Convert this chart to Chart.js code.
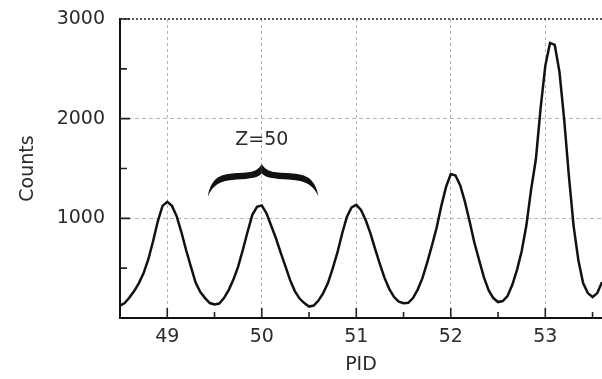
<!DOCTYPE html>
<html>
<head>
<meta charset="utf-8">
<script src="https://cdn.jsdelivr.net/npm/chart.js@4/dist/chart.umd.min.js"></script>
<style>
  html, body { margin: 0; padding: 0; background: #fff; }
  #wrap { width: 602px; height: 379px; }
</style>
</head>
<body>
<div id="wrap"><canvas id="pidChart" width="602" height="379"></canvas></div>
<script>
// PID spectrum
const pid = [
  48.50, 48.55, 48.60, 48.65, 48.70, 48.75, 48.80, 48.85, 48.90, 48.95,
  49.00, 49.05, 49.10, 49.15, 49.20, 49.25, 49.30, 49.35, 49.40, 49.45,
  49.50, 49.55, 49.60, 49.65, 49.70, 49.75, 49.80, 49.85, 49.90, 49.95,
  50.00, 50.05, 50.10, 50.15, 50.20, 50.25, 50.30, 50.35, 50.40, 50.45,
  50.50, 50.55, 50.60, 50.65, 50.70, 50.75, 50.80, 50.85, 50.90, 50.95,
  51.00, 51.05, 51.10, 51.15, 51.20, 51.25, 51.30, 51.35, 51.40, 51.45,
  51.50, 51.55, 51.60, 51.65, 51.70, 51.75, 51.80, 51.85, 51.90, 51.95,
  52.00, 52.05, 52.10, 52.15, 52.20, 52.25, 52.30, 52.35, 52.40, 52.45,
  52.50, 52.55, 52.60, 52.65, 52.70, 52.75, 52.80, 52.85, 52.90, 52.95,
  53.00, 53.05, 53.10, 53.15, 53.20, 53.25, 53.30, 53.35, 53.40, 53.45,
  53.50, 53.55, 53.60
];

const counts = [
  125, 150, 205, 270, 350, 450, 590, 770, 970, 1125,
  1165, 1125, 1020, 860, 680, 515, 355, 260, 200, 150,
  135, 145, 200, 280, 385, 515, 685, 865, 1035, 1115,
  1130, 1050, 925, 800, 655, 520, 380, 270, 195, 150,
  115, 125, 175, 250, 350, 495, 655, 845, 1015, 1110,
  1135, 1085, 980, 850, 690, 540, 400, 290, 210, 165,
  148, 152, 200, 285, 400, 555, 725, 905, 1125, 1315,
  1445, 1430, 1330, 1165, 965, 755, 580, 410, 280, 200,
  160, 170, 220, 330, 480, 670, 930, 1290, 1590, 2100,
  2530, 2760, 2740, 2470, 1990, 1420, 920, 580, 350, 250,
  210, 250, 360
];

const xTicks = [49, 50, 51, 52, 53];
const xMinor = [49.5, 50.5, 51.5, 52.5, 53.5];
const yTicks = [1000, 2000, 3000];
const yMinor = [500, 1500, 2500];

const labelText = "Z=50";
const labelPos = [50, 1790];
const braceX = [49.43, 50.0, 50.6];
const braceY = [1545, 1205];

const textColor = "#2b2b2b";
const gridColor = "#b4b4b4";
const fontFamily = "'DejaVu Sans', sans-serif";

const points = pid.map((v, i) => ({ x: v, y: counts[i] }));

// inward ticks + dotted top frame
const framePlugin = {
  id: "frame",
  afterDraw(chart) {
    const { ctx, chartArea: a, scales: { x, y } } = chart;
    ctx.save();
    ctx.strokeStyle = "#222";
    ctx.lineWidth = 1.5;
    ctx.setLineDash([2, 2]);
    ctx.beginPath();
    ctx.moveTo(a.left, y.getPixelForValue(3000));
    ctx.lineTo(a.right, y.getPixelForValue(3000));
    ctx.stroke();
    ctx.setLineDash([]);
    ctx.lineWidth = 1.6;
    ctx.beginPath();
    xTicks.forEach(v => {
      const px = x.getPixelForValue(v);
      ctx.moveTo(px, a.bottom);
      ctx.lineTo(px, a.bottom - 10);
    });
    xMinor.forEach(v => {
      const px = x.getPixelForValue(v);
      ctx.moveTo(px, a.bottom);
      ctx.lineTo(px, a.bottom - 6);
    });
    yTicks.forEach(v => {
      const py = y.getPixelForValue(v);
      ctx.moveTo(a.left, py);
      ctx.lineTo(a.left + 10, py);
    });
    yMinor.forEach(v => {
      const py = y.getPixelForValue(v);
      ctx.moveTo(a.left, py);
      ctx.lineTo(a.left + 7, py);
    });
    ctx.stroke();
    ctx.restore();
  }
};

// the "Z=50" brace
const bracePlugin = {
  id: "brace",
  afterDatasetsDraw(chart) {
    const { ctx, scales: { x, y } } = chart;
    const xl = x.getPixelForValue(braceX[0]);
    const xm = x.getPixelForValue(braceX[1]);
    const xr = x.getPixelForValue(braceX[2]);
    const yt = y.getPixelForValue(braceY[0]);
    const h = y.getPixelForValue(braceY[1]) - yt;

    function half(w, dir) {
      const P = (u, d) => [xm + dir * u * w, yt + d * h];
      ctx.beginPath();
      let p = P(0, 0);
      ctx.moveTo(p[0], p[1]);
      let c1 = P(0.1, 0.3), c2 = P(0.3, 0.24), e = P(0.55, 0.28);
      ctx.bezierCurveTo(c1[0], c1[1], c2[0], c2[1], e[0], e[1]);
      c1 = P(0.78, 0.31); c2 = P(0.94, 0.42); e = P(1, 0.95);
      ctx.bezierCurveTo(c1[0], c1[1], c2[0], c2[1], e[0], e[1]);
      c1 = P(0.9, 0.6); c2 = P(0.76, 0.5); e = P(0.55, 0.47);
      ctx.bezierCurveTo(c1[0], c1[1], c2[0], c2[1], e[0], e[1]);
      c1 = P(0.32, 0.44); c2 = P(0.08, 0.44); e = P(0, 0.28);
      ctx.bezierCurveTo(c1[0], c1[1], c2[0], c2[1], e[0], e[1]);
      ctx.closePath();
      ctx.fill();
    }

    ctx.save();
    ctx.fillStyle = "#111";
    half(xm - xl, -1);
    half(xr - xm, 1);
    ctx.fillStyle = textColor;
    ctx.font = "19px " + fontFamily;
    ctx.textAlign = "center";
    ctx.textBaseline = "middle";
    ctx.fillText(labelText, x.getPixelForValue(labelPos[0]), y.getPixelForValue(labelPos[1]));
    ctx.restore();
  }
};

new Chart(document.getElementById("pidChart"), {
  type: "line",
  data: {
    datasets: [{
      data: points,
      borderColor: "#111",
      borderWidth: 2.5,
      pointRadius: 0,
      tension: 0,
      fill: false
    }]
  },
  options: {
    responsive: false,
    animation: false,
    layout: { padding: { top: 19, right: 0, left: 0, bottom: 0 } },
    plugins: {
      legend: { display: false },
      tooltip: { enabled: false }
    },
    scales: {
      x: {
        type: "linear",
        min: 48.5,
        max: 53.6,
        afterBuildTicks: s => { s.ticks = xTicks.map(v => ({ value: v })); },
        afterFit: s => { s.height = 61; s.paddingLeft = 0; s.paddingRight = 0; },
        grid: {
          color: gridColor,
          lineWidth: 1,
          drawTicks: false
        },
        border: { color: "#111", width: 2, dash: [3, 3] },
        ticks: {
          color: textColor,
          padding: 8,
          maxRotation: 0,
          font: { family: fontFamily, size: 19 },
          callback: v => String(v)
        },
        title: {
          display: true,
          text: "PID",
          color: textColor,
          font: { family: fontFamily, size: 19 },
          padding: { top: 0, bottom: 3 }
        }
      },
      y: {
        type: "linear",
        min: 0,
        max: 3000,
        afterBuildTicks: s => { s.ticks = yTicks.map(v => ({ value: v })); },
        afterFit: s => { s.width = 120; s.paddingTop = 0; s.paddingBottom = 0; },
        grid: {
          color: ctx => (ctx.tick && ctx.tick.value === 3000) ? "rgba(0,0,0,0)" : gridColor,
          lineWidth: 1,
          drawTicks: false
        },
        border: { color: "#111", width: 2, dash: [4, 3] },
        ticks: {
          color: textColor,
          padding: 15,
          font: { family: fontFamily, size: 19 },
          callback: v => String(v)
        },
        title: {
          display: true,
          text: "Counts",
          color: textColor,
          font: { family: fontFamily, size: 19 },
          padding: { top: 17, bottom: 0 }
        }
      }
    }
  },
  plugins: [framePlugin, bracePlugin]
});
</script>
</body>
</html>
